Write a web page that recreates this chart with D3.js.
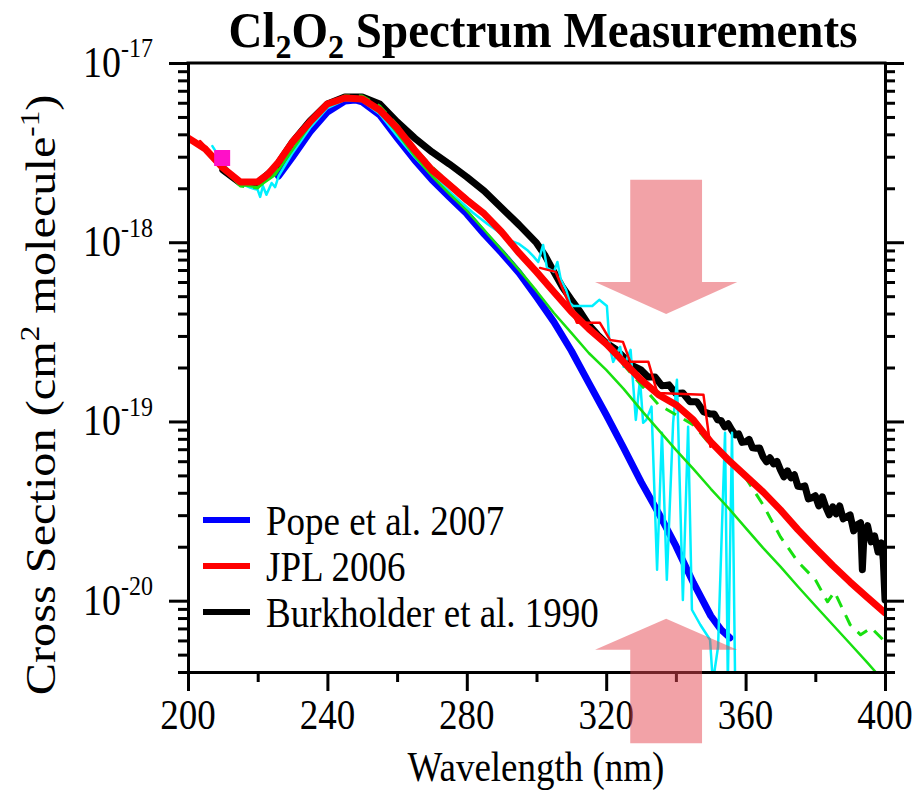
<!DOCTYPE html>
<html>
<head>
<meta charset="utf-8">
<script src="https://cdn.jsdelivr.net/npm/d3@7"></script>
<style>
  html, body { margin: 0; padding: 0; background: #fff; }
  svg { display: block; }
  text { font-family: "Liberation Serif", "Times New Roman", serif; fill: #000; }
</style>
</head>
<body>
<svg id="chart" width="915" height="792"></svg>
<script>
// ---------------- DATA ----------------
const xMajorTicks = [200, 240, 280, 320, 360, 400];
const xMinorTicks = [220, 260, 300, 340, 380];
const yMajorTicks = [1e-17, 1e-18, 1e-19, 1e-20];
const yMajorExponents = ["-17", "-18", "-19", "-20"];
const yMantissas = [2, 3, 4, 5, 6, 7, 8, 9];
const yDecades = [-21, -20, -19, -18];

// Pope et al. 2007 (blue)
const popeWl = [226,230,235,240,245,248,250,255,260,265,270,275,280,285,290,295,300,305,310,315,320,325,330,335,340,345,350,353,355.5];
const popeXs = [2.34e-18,2.99e-18,4.12e-18,5.33e-18,6.14e-18,6.22e-18,6.06e-18,5.13e-18,3.82e-18,2.88e-18,2.23e-18,1.79e-18,1.44e-18,1.11e-18,8.72e-19,6.74e-19,4.95e-19,3.59e-19,2.48e-19,1.64e-19,1.09e-19,7.12e-20,4.60e-20,3.09e-20,2.02e-20,1.26e-20,8.24e-21,6.88e-21,6.21e-21];

// JPL 2006 (red, thick)
const jplWl = [200,205,210,215,220,223,226,230,235,240,245,250,255,260,265,270,275,280,285,290,295,300,305,310,315,320,325,330,335,340,345,350,355,360,365,370,375,380,385,390,395,400];
const jplXs = [3.82e-18,3.31e-18,2.60e-18,2.17e-18,2.17e-18,2.40e-18,2.80e-18,3.63e-18,4.69e-18,5.91e-18,6.38e-18,6.30e-18,5.47e-18,4.34e-18,3.27e-18,2.53e-18,2.09e-18,1.72e-18,1.44e-18,1.14e-18,8.72e-19,6.83e-19,5.28e-19,4.09e-19,3.29e-19,2.71e-19,2.15e-19,1.71e-19,1.41e-19,1.24e-19,1.02e-19,7.69e-20,6.11e-20,4.97e-20,4.05e-20,3.21e-20,2.49e-20,1.97e-20,1.57e-20,1.27e-20,1.04e-20,8.56e-21];

// JPL tabulated steps (red, thin)
const jplStepWl = [301,305.5,311.6,318.2,321.1,324.8,326.9,332.1,334.7,347.9,349.9];
const jplStepXs = [7.19e-19,6.83e-19,3.55e-19,3.55e-19,2.85e-19,2.78e-19,2.15e-19,2.15e-19,1.44e-19,1.41e-19,7.22e-20];
const jplUvStepWl = [203.5, 212];
const jplUvStepXs = [3.67e-18, 2.47e-18];

// Burkholder et al. 1990 (black)
const burkWl = [210,215,220,225,230,235,240,245,250,255,260,265,270,275,280,285,290,295,300,
  302.5,305,307.5,310,312.5,315,317.5,320,322.5,325,327.5,
  330,332,334,336,338,340,342,344,346,348,
  350,351,352,353,354,355,356,357,358,359,360,361,362,363,364,365,366,367,368,369,370,371,372,373,374,375,376,377,378,379,380,381,382,383,384,385,386,387,388,389,390,391,392,393,393.5,394,395,396,397,398,399,399.5,400];
const burkXs = [2.53e-18,2.14e-18,2.14e-18,2.60e-18,3.63e-18,4.75e-18,5.91e-18,6.46e-18,6.46e-18,5.91e-18,4.69e-18,3.82e-18,3.19e-18,2.73e-18,2.31e-18,1.93e-18,1.55e-18,1.25e-18,9.91e-19,
  8.4e-19,6.83e-19,5.6e-19,4.77e-19,4.1e-19,3.46e-19,3.05e-19,2.74e-19,2.55e-19,2.29e-19,2.05e-19,
  1.94e-19,1.77e-19,1.77e-19,1.58e-19,1.60e-19,1.43e-19,1.44e-19,1.29e-19,1.29e-19,1.13e-19,
  1.10e-19,1.10e-19,1.02e-19,1.01e-19,9.33e-20,9.70e-20,8.98e-20,8.42e-20,8.53e-20,7.64e-20,7.69e-20,7.94e-20,7.12e-20,7.08e-20,7.12e-20,6.35e-20,5.95e-20,6.27e-20,5.80e-20,5.99e-20,5.37e-20,4.91e-20,5.30e-20,4.85e-20,5.04e-20,4.35e-20,4.32e-20,4.37e-20,3.70e-20,3.75e-20,3.85e-20,3.38e-20,3.80e-20,3.34e-20,3.01e-20,3.34e-20,3.05e-20,3.38e-20,2.86e-20,2.94e-20,3.01e-20,2.45e-20,2.65e-20,2.72e-20,1.49e-20,2.39e-20,2.62e-20,2.13e-20,2.30e-20,1.87e-20,2.10e-20,1.69e-20,1.01e-20];

// Green solid
const greenWl = [205,210,215,220,225,230,235,240,245,250,255,260,265,270,275,280,285,290,295,300,305,310,315,320,325,330,335,340,345,350,355,360,365,370,375,380,385,390,395,397.5];
const greenXs = [3.19e-18,2.53e-18,2.09e-18,2.03e-18,2.37e-18,3.27e-18,4.51e-18,5.76e-18,6.46e-18,6.38e-18,5.40e-18,4.07e-18,3.03e-18,2.34e-18,1.86e-18,1.50e-18,1.17e-18,9.06e-19,7.01e-19,5.35e-19,4.03e-19,3.12e-19,2.41e-19,1.94e-19,1.52e-19,1.16e-19,8.98e-20,6.94e-20,5.44e-20,4.21e-20,3.30e-20,2.55e-20,1.97e-20,1.55e-20,1.20e-20,9.37e-21,7.34e-21,5.75e-21,4.50e-21,3.96e-21];

// Green dashed
const dashWl = [205,210,215,220,225,230,235,240,245,250,255,260,265,270,275,280,285,290,295,300,305,310,315,320,325,330,335,340,345,350,355,360,365,370,375,380,383.5,385.5,390,393,396,400];
const dashXs = [3.27e-18,2.60e-18,2.06e-18,2.01e-18,2.47e-18,3.44e-18,4.57e-18,5.83e-18,6.55e-18,6.55e-18,5.76e-18,4.51e-18,3.36e-18,2.63e-18,2.14e-18,1.77e-18,1.46e-18,1.16e-18,8.94e-19,7.01e-19,5.42e-19,4.25e-19,3.37e-19,2.71e-19,2.07e-19,1.60e-19,1.24e-19,1.09e-19,9.57e-20,7.40e-20,6.27e-20,4.85e-20,3.43e-20,2.27e-20,1.65e-20,1.31e-20,9.86e-21,1.12e-20,7.34e-21,6.45e-21,7.06e-21,5.90e-21];

// Cyan noisy
const cyanWl = [207,210,213,216,218,220,220.7,221.5,222.5,224,225,226,230,235,240,245,250,255,260,265,270,276,281.8,286,288.7,292,295,297.3,299,300.5,301.9,303,305,306,307,308.5,309.6,310.5,316,318,320.2,321,322,324,325,327,328.5,329.7,330.6,331.5,333,334.6,336,337.4,339.2,340.3,342,343.5,344.6,347,349.8,350.6,352.1,354.1,354.9,356.1,357];
const cyanXs = [3.44e-18,2.77e-18,2.34e-18,2.09e-18,2.01e-18,1.96e-18,1.79e-18,2.06e-18,1.84e-18,2.14e-18,2.03e-18,2.34e-18,3.15e-18,4.34e-18,5.61e-18,6.22e-18,6.14e-18,5.20e-18,3.92e-18,2.99e-18,2.37e-18,1.84e-18,1.46e-18,1.26e-18,1.16e-18,1.03e-18,9.78e-19,9.06e-19,8.39e-19,7.76e-19,9.66e-19,7.19e-19,6.83e-19,7.76e-19,6.16e-19,5.42e-19,4.59e-19,4.41e-19,4.41e-19,4.77e-19,4.41e-19,2.61e-19,2.15e-19,2.61e-19,2.02e-19,2.51e-19,1.02e-19,1.71e-19,9.82e-20,1.02e-19,1.21e-19,1.49e-20,8.64e-20,1.31e-20,9.82e-20,1.71e-19,1.01e-20,9.33e-20,8.90e-21,7.34e-21,6.05e-21,3.5e-21,5.53e-21,8.64e-20,3.5e-21,8.64e-20,3.5e-21];

// Single magenta point
const markerWl = [209.8];
const markerXs = [2.95e-18];

// Legend
const legendLabels = ["Pope et al. 2007", "JPL 2006", "Burkholder et al. 1990"];
const legendColors = ["#0000ff", "#ff0000", "#000000"];

// Annotation arrows (centre wavelength, half widths in nm, levels in cross-section)
const arrowDown = { wl: 337.2, halfShaft: 10.3, halfHead: 20.4, tail: 2.23e-18, base: 6.0e-19, tip: 3.98e-19 };
const arrowUp   = { wl: 337.2, halfShaft: 10.3, halfHead: 20.4, tail: 1.6e-21, base: 5.32e-21, tip: 7.93e-21 };

// ---------------- DRAW ----------------
const S = 1.15; // vertical stretch of glyphs
const svg = d3.select("#chart");
const x = d3.scaleLinear().domain([200, 400]).range([188, 885]);
const y = d3.scaleLog().domain([4e-21, 1e-17]).range([672, 63]);

const defs = svg.append("defs");
defs.append("clipPath").attr("id", "plotclip").append("rect")
  .attr("x", x(200)).attr("y", y(1e-17)).attr("width", x(400) - x(200)).attr("height", y(4e-21) - y(1e-17));

const plot = svg.append("g").attr("clip-path", "url(#plotclip)");

function series(wl, xs) { return wl.map((w, i) => [w, xs[i]]); }
const line = d3.line().x(d => x(d[0])).y(d => y(d[1]));

function drawLine(wl, xs, color, width, dash) {
  const p = plot.append("path").datum(series(wl, xs))
    .attr("d", line).attr("fill", "none").attr("stroke", color)
    .attr("stroke-width", width).attr("stroke-linejoin", "round").attr("stroke-linecap", "round");
  if (dash) p.attr("stroke-dasharray", dash).attr("stroke-linecap", "butt");
  return p;
}

drawLine(burkWl, burkXs, "#000000", 7);
drawLine(popeWl, popeXs, "#0000ff", 7);
drawLine(cyanWl, cyanXs, "#00f0ff", 2.5);
drawLine(greenWl, greenXs, "#18e010", 2.5);
drawLine(dashWl, dashXs, "#18e010", 3, "12,9");
drawLine(jplWl, jplXs, "#ff0000", 7);
drawLine(jplStepWl, jplStepXs, "#ff0000", 2.5);
drawLine(jplUvStepWl, jplUvStepXs, "#ff0000", 2.5);

plot.selectAll("path.marker").data(series(markerWl, markerXs)).enter().append("path")
  .attr("class", "marker")
  .attr("d", d3.symbol().type(d3.symbolSquare).size(256))
  .attr("transform", d => `translate(${x(d[0])},${y(d[1])})`)
  .attr("fill", "#ff10c8");

// Axes
const axisG = svg.append("g");
function styleAxis(g) {
  g.selectAll("path.domain").attr("stroke", "#000").attr("stroke-width", 3);
  g.selectAll(".tick line").attr("stroke", "#000").attr("stroke-width", 3);
  g.selectAll(".tick text").remove();
}
const yMinor = [];
yDecades.forEach(e => yMantissas.forEach(m => {
  const v = m * Math.pow(10, e);
  if (v >= 4e-21 && v <= 1e-17) yMinor.push(v);
}));

axisG.append("g").attr("transform", `translate(0,${y(4e-21)})`)
  .call(d3.axisBottom(x).tickValues(xMajorTicks).tickSize(19).tickSizeOuter(0)).call(styleAxis);
axisG.append("g").attr("transform", `translate(0,${y(4e-21)})`)
  .call(d3.axisBottom(x).tickValues(xMinorTicks).tickSize(10).tickSizeOuter(0)).call(styleAxis);
axisG.append("g").attr("transform", `translate(${x(200)},0)`)
  .call(d3.axisLeft(y).tickValues(yMajorTicks).tickSize(19).tickSizeOuter(0)).call(styleAxis);
axisG.append("g").attr("transform", `translate(${x(200)},0)`)
  .call(d3.axisLeft(y).tickValues(yMinor).tickSize(10).tickSizeOuter(0)).call(styleAxis);
axisG.append("g").attr("transform", `translate(${x(400)},0)`)
  .call(d3.axisRight(y).tickValues(yMajorTicks).tickSize(19).tickSizeOuter(0)).call(styleAxis);
axisG.append("g").attr("transform", `translate(${x(400)},0)`)
  .call(d3.axisRight(y).tickValues(yMinor).tickSize(10).tickSizeOuter(0)).call(styleAxis);
axisG.append("line").attr("x1", x(200) - 1.5).attr("x2", x(400) + 1.5)
  .attr("y1", y(1e-17)).attr("y2", y(1e-17)).attr("stroke", "#000").attr("stroke-width", 3);

// Text helper with vertical stretch
function stext(parent, tx, ty, size, anchor, sx, sy, rot) {
  const g = parent.append("g").attr("transform", `translate(${tx},${ty}) scale(${sx},${sy})${rot ? ` rotate(${rot})` : ""}`);
  return g.append("text").attr("x", 0).attr("y", 0).attr("font-size", size).attr("text-anchor", anchor);
}

const labels = svg.append("g");
// x tick labels
xMajorTicks.forEach(v => {
  stext(labels, x(v), 729, 37, "middle", 1, S).text(v);
});
// y tick labels
yMajorTicks.forEach((v, i) => {
  const t = stext(labels, 153, y(v) + 14, 38, "end", 1, S);
  t.append("tspan").text("10");
  t.append("tspan").attr("font-size", 24).attr("dy", -17).text(yMajorExponents[i]);
});
// axis titles
stext(labels, 536, 781, 37, "middle", 1, S).text("Wavelength (nm)");
{
  const t = stext(labels, 55, 395, 42, "middle", 1, S, -90);
  t.append("tspan").text("Cross Section (cm");
  t.append("tspan").attr("font-size", 27).attr("dy", -16).text("2");
  t.append("tspan").attr("dy", 16).text(" molecule");
  t.append("tspan").attr("font-size", 27).attr("dy", -16).text("-1");
  t.append("tspan").attr("dy", 16).text(")");
}
// title
{
  const t = stext(labels, 543, 47, 47, "middle", 1, 1.08);
  t.attr("font-weight", "bold");
  t.append("tspan").text("Cl");
  t.append("tspan").attr("font-size", 32).attr("dy", 10).text("2");
  t.append("tspan").attr("dy", -10).text("O");
  t.append("tspan").attr("font-size", 32).attr("dy", 10).text("2");
  t.append("tspan").attr("dy", -10).text(" Spectrum Measurements");
}

// Legend
const legendY = [520, 566, 612];
legendLabels.forEach((lab, i) => {
  labels.append("line").attr("x1", 203).attr("x2", 250).attr("y1", legendY[i]).attr("y2", legendY[i])
    .attr("stroke", legendColors[i]).attr("stroke-width", 6);
  stext(labels, 266, legendY[i] + 15, 37, "start", 1, S).text(lab);
});

// Arrows (translucent, on top)
function arrowPath(a) {
  const p = d3.path();
  p.moveTo(x(a.wl - a.halfShaft), y(a.tail));
  p.lineTo(x(a.wl + a.halfShaft), y(a.tail));
  p.lineTo(x(a.wl + a.halfShaft), y(a.base));
  p.lineTo(x(a.wl + a.halfHead), y(a.base));
  p.lineTo(x(a.wl), y(a.tip));
  p.lineTo(x(a.wl - a.halfHead), y(a.base));
  p.lineTo(x(a.wl - a.halfShaft), y(a.base));
  p.closePath();
  return p.toString();
}
svg.append("g").selectAll("path").data([arrowDown, arrowUp]).enter().append("path")
  .attr("d", arrowPath).attr("fill", "rgb(230,70,80)").attr("fill-opacity", 0.5);
</script>
</body>
</html>
